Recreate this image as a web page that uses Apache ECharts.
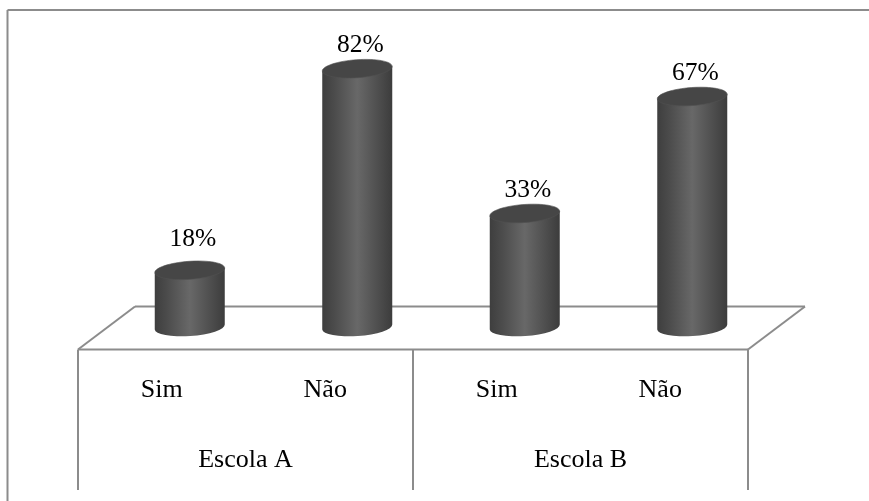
<!DOCTYPE html>
<html>
<head>
<meta charset="utf-8">
<style>html,body{margin:0;padding:0;background:#fff}#c{width:869px;height:501px}</style>
<script src="https://cdn.jsdelivr.net/npm/echarts@6/dist/echarts.min.js"></script>
</head>
<body>
<div id="c"></div>
<script>
var answers = ['Sim', 'Não', 'Sim', 'Não'];
var schools = ['Escola A', 'Escola B'];
var schoolA = [18, 82, null, null];
var schoolB = [null, null, 33, 67];

var FONT = '"Liberation Serif","Times New Roman",serif';
var LINE = '#8c8c8c';
var FRONT_L = 78, FRONT_R = 748, FRONT_Y = 349.5, DEPTH_X = 57, DEPTH_Y = 43, TABLE_B = 490;
var SHIFT = 28;          // columns stand halfway into the floor
var BAR_W = 70, RY = 9, TILT = -0.07;
var BASE_Y = 327, TOP_Y = 27;

function renderCylinder(params, api) {
  var v = api.value(1);
  if (v == null || isNaN(v)) return;
  var top = api.coord([api.value(0), v]);
  var base = api.coord([api.value(0), 0]);
  var cx = top[0], rx = BAR_W / 2, ty = top[1], by = base[1];
  var dy = rx * Math.sin(-TILT);     // right rim sits higher than the left
  var gap = api.value(0) === 0 ? 31 : 23;   // the first label floats higher in the picture
  var side = new echarts.graphic.LinearGradient(0, 0, 1, 0, [
    {offset: 0, color: '#3e3e3e'},
    {offset: 0.18, color: '#4c4c4c'},
    {offset: 0.5, color: '#686868'},
    {offset: 0.82, color: '#4c4c4c'},
    {offset: 1, color: '#3c3c3c'}
  ]);
  var path = 'M' + (cx - rx) + ' ' + (ty + dy) +
    'L' + (cx - rx) + ' ' + (by + dy) +
    'A' + rx + ' ' + RY + ' ' + (TILT * 57.3) + ' 0 0 ' + (cx + rx) + ' ' + (by - dy) +
    'L' + (cx + rx) + ' ' + (ty - dy) + 'Z';
  return {
    type: 'group',
    children: [
      {type: 'path', shape: {pathData: path}, style: {fill: side}},
      {type: 'ellipse', rotation: -TILT, x: cx, y: ty, originX: 0, originY: 0,
        shape: {cx: 0, cy: 0, rx: rx, ry: RY},
        style: {fill: '#464646', stroke: '#525252', lineWidth: 0.6}},
      {type: 'text', x: cx + 3, y: ty - gap,
        style: {text: v + '%', font: '25.5px ' + FONT, fill: '#000', align: 'center', verticalAlign: 'middle'}}
    ]
  };
}

function seriesFor(name, values, axisIdx) {
  return {
    name: name, type: 'custom', coordinateSystem: 'cartesian2d',
    xAxisIndex: 0, yAxisIndex: axisIdx, renderItem: renderCylinder,
    encode: {x: 0, y: 1}, clip: false, z: 5,
    data: values.map(function (v, i) { return [i, v]; })
  };
}

function line(x1, y1, x2, y2) {
  return {type: 'line', shape: {x1: x1, y1: y1, x2: x2, y2: y2},
    style: {stroke: LINE, lineWidth: 2}, silent: true, z: 1};
}

var W = FRONT_R - FRONT_L, MID = (FRONT_L + FRONT_R) / 2;
var option = {
  animation: false,
  backgroundColor: '#fff',
  grid: [
    {left: FRONT_L + SHIFT, width: W, top: TOP_Y, height: BASE_Y - TOP_Y},
    {left: FRONT_L, width: W, top: FRONT_Y, height: 1}
  ],
  xAxis: [
    {type: 'category', gridIndex: 0, data: answers, show: false},
    {type: 'category', gridIndex: 1, data: answers, position: 'bottom',
      axisLine: {show: false}, axisTick: {show: false},
      axisLabel: {color: '#000', fontFamily: FONT, fontSize: 26, margin: 27,
        formatter: function (t, i) { return i % 2 ? '{n|' + t + '}' : t; },
        rich: {n: {fontFamily: FONT, fontSize: 26, color: '#000', padding: [0, 8, 0, 0]}}}},
    {type: 'category', gridIndex: 1, data: schools, position: 'bottom',
      axisLine: {show: false}, axisTick: {show: false},
      axisLabel: {color: '#000', fontFamily: FONT, fontSize: 26, margin: 97}}
  ],
  yAxis: [
    // the picture draws Escola A at 3.15 px per point and Escola B at 3.44
    {type: 'value', gridIndex: 0, min: 0, max: (BASE_Y - TOP_Y) / 3.15, show: false},
    {type: 'value', gridIndex: 0, min: 0, max: (BASE_Y - TOP_Y) / 3.44, show: false},
    {type: 'value', gridIndex: 1, show: false}
  ],
  series: [
    seriesFor(schools[0], schoolA, 0),
    seriesFor(schools[1], schoolB, 1),
    {type: 'line', xAxisIndex: 1, yAxisIndex: 2, data: [], silent: true},
    {type: 'line', xAxisIndex: 2, yAxisIndex: 2, data: [], silent: true}
  ],
  graphic: [
    line(7.5, 10, 869, 10),
    line(7.5, 10, 7.5, 501),
    line(FRONT_L, FRONT_Y, FRONT_R, FRONT_Y),
    line(FRONT_L + DEPTH_X, FRONT_Y - DEPTH_Y, FRONT_R + DEPTH_X, FRONT_Y - DEPTH_Y),
    line(FRONT_L, FRONT_Y, FRONT_L + DEPTH_X, FRONT_Y - DEPTH_Y),
    line(FRONT_R, FRONT_Y, FRONT_R + DEPTH_X, FRONT_Y - DEPTH_Y),
    line(FRONT_L, FRONT_Y, FRONT_L, TABLE_B),
    line(MID, FRONT_Y, MID, TABLE_B),
    line(FRONT_R, FRONT_Y, FRONT_R, TABLE_B)
  ]
};
echarts.init(document.getElementById('c'), null, {renderer: 'canvas'}).setOption(option);
</script>
</body>
</html>
